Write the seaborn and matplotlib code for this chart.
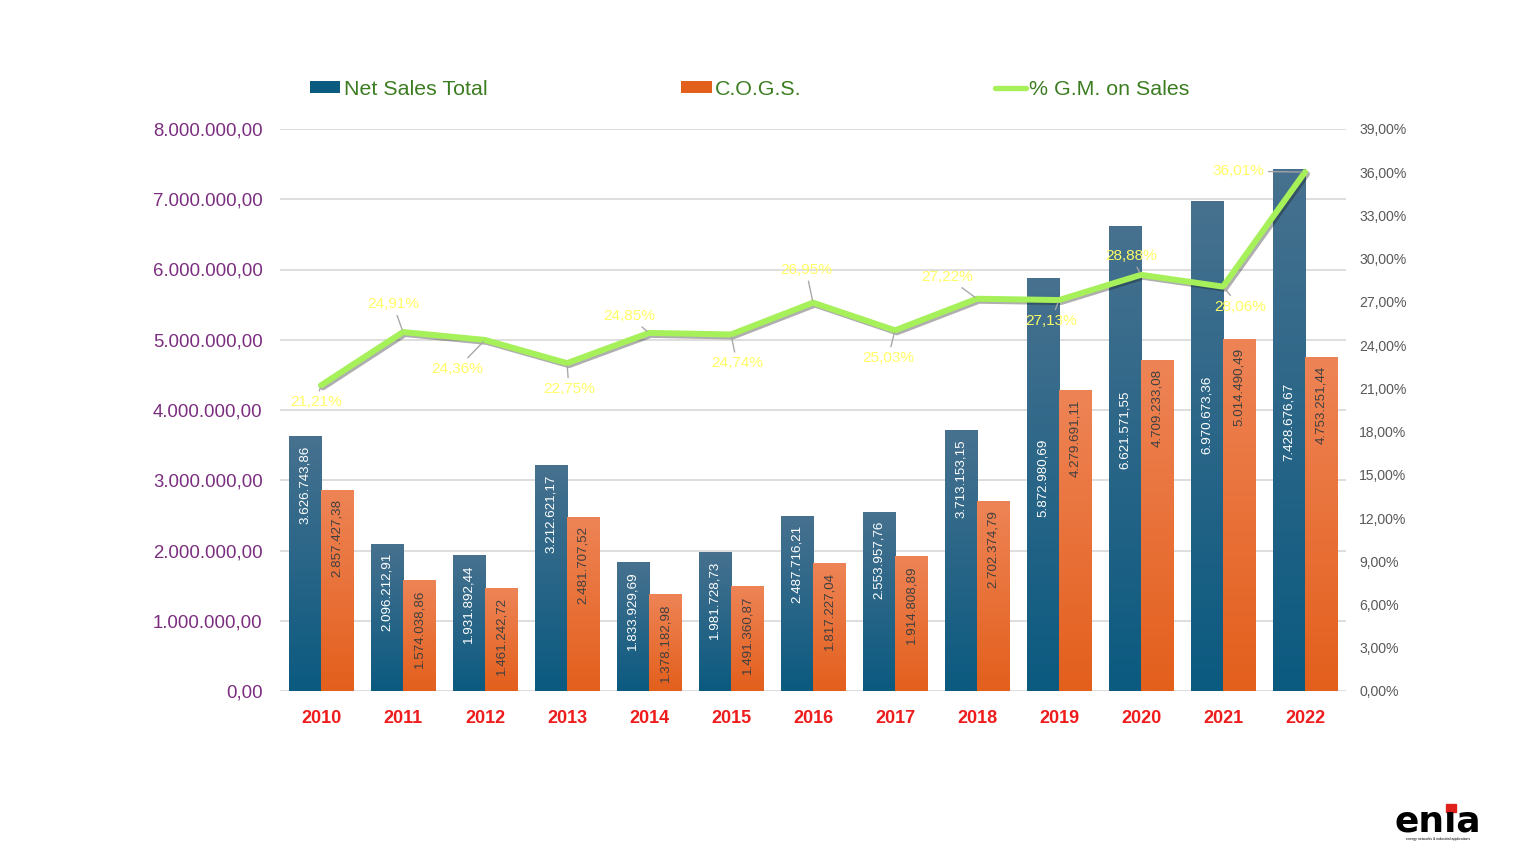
import numpy as np
import pandas as pd
import matplotlib
matplotlib.use("Agg")
import matplotlib.pyplot as plt
import matplotlib.patheffects as pe
from matplotlib.colors import LinearSegmentedColormap
from matplotlib.lines import Line2D
from matplotlib.patches import Patch, Rectangle
from matplotlib.ticker import FuncFormatter, MultipleLocator
import seaborn as sns

# data
years = ["2010", "2011", "2012", "2013", "2014", "2015", "2016",
         "2017", "2018", "2019", "2020", "2021", "2022"]
net_sales = [3626743.86, 2096212.91, 1931892.44, 3212621.17, 1833929.69,
             1981728.73, 2487716.21, 2553957.76, 3713153.15, 5872980.69,
             6621571.55, 6970673.36, 7428676.67]
cogs = [2857427.38, 1574038.86, 1461242.72, 2481707.52, 1378182.98,
        1491360.87, 1817227.04, 1914808.89, 2702374.79, 4279691.11,
        4709233.08, 5014490.49, 4753251.44]
gm_pct = [21.21, 24.91, 24.36, 22.75, 24.85, 24.74, 26.95,
          25.03, 27.22, 27.13, 28.88, 28.06, 36.01]
series_names = ["Net Sales Total", "C.O.G.S.", "% G.M. on Sales"]

# layout of the labels (not data): % label offsets from their points in
# pixels, and where the tall blue bars' labels were dragged down to
gm_label_offsets = [(-5, -17), (-10, 28), (-28, -29), (2, -26), (-20, 17),
                    (6, -29), (-7, 33), (-7, -28), (-30, 22), (-8, -21),
                    (-10, 19), (17, -20), (-67, 1)]
blue_label_anchor = {"2019": 3.72e6, "2020": 4.40e6, "2021": 4.62e6, "2022": 4.51e6}

BLUE_TOP, BLUE_BOT = "#47718f", "#0b5a80"
ORANGE_TOP, ORANGE_BOT = "#ee8456", "#e35f1c"
GREEN = "#a6f05a"
YELLOW = "#ffff66"


def eu(v, dec=2):
    s = f"{v:,.{dec}f}"
    return s.replace(",", "X").replace(".", ",").replace("X", ".")


sns.set_theme(style="white")
plt.rcParams["font.family"] = ["Liberation Sans", "DejaVu Sans"]

W, H = 1536, 864
fig = plt.figure(figsize=(16, 9), dpi=96)
ax = fig.add_axes([280 / W, 1 - 691 / H, 1066 / W, 562 / H])

df = pd.DataFrame({
    "year": years * 2,
    "value": net_sales + cogs,
    "series": [series_names[0]] * len(years) + [series_names[1]] * len(years),
})
sns.barplot(data=df, x="year", y="value", hue="series",
            palette=[BLUE_BOT, ORANGE_BOT], saturation=1, width=0.79,
            legend=False, ax=ax, zorder=2)

ax.set_ylim(0, 8_000_000)
ax.yaxis.set_major_locator(MultipleLocator(1_000_000))
ax.yaxis.set_major_formatter(FuncFormatter(lambda v, _: eu(v)))
ax.grid(axis="y", color="#d9d9d9", linewidth=1.3, zorder=0)
ax.grid(axis="x", visible=False)
ax.set_axisbelow(True)
for s in ax.spines.values():
    s.set_visible(False)
ax.tick_params(axis="y", length=0, pad=13, labelsize=14, labelcolor="#7b2d7f")
ax.tick_params(axis="x", length=0, pad=14, labelsize=13.5, labelcolor="#ee1c1c")
for t in ax.get_xticklabels():
    t.set_fontweight("bold")
ax.set_xlabel("")
ax.set_ylabel("")

# gradient fill for the bars
xlim, ylim = ax.get_xlim(), ax.get_ylim()
grad = np.linspace(0, 1, 256).reshape(-1, 1)
cmaps = [LinearSegmentedColormap.from_list("b", [BLUE_BOT, BLUE_TOP]),
         LinearSegmentedColormap.from_list("o", [ORANGE_BOT, ORANGE_TOP])]
bars = list(ax.patches)
n = len(years)
for i, bar in enumerate(bars):
    x0, w, h = bar.get_x(), bar.get_width(), bar.get_height()
    im = ax.imshow(grad, extent=[x0, x0 + w, 0, h], origin="lower",
                   aspect="auto", cmap=cmaps[i // n], zorder=2.1)
    im.set_clip_path(bar)
    bar.set_edgecolor("none")
ax.set_xlim(xlim)
ax.set_ylim(ylim)

# value labels inside the bars
values = net_sales + cogs
for i, bar in enumerate(bars):
    colour = "white" if i < n else "#404040"
    top = bar.get_height()
    if i < n:
        top = blue_label_anchor.get(years[i], top)
    ax.annotate(eu(values[i]), (bar.get_x() + bar.get_width() / 2, top),
                xytext=(0, -9), textcoords="offset pixels", rotation=90,
                ha="center", va="top", fontsize=10, color=colour, zorder=3)

# margin line on the right axis
ax2 = ax.twinx()
pos = np.arange(len(years))
sns.lineplot(x=pos, y=gm_pct, ax=ax2, color=GREEN, linewidth=4.5, zorder=4,
             path_effects=[pe.SimpleLineShadow(offset=(1.5, -1.5), alpha=0.35),
                           pe.Normal()])
ax2.set_ylim(0, 39)
ax2.yaxis.set_major_locator(MultipleLocator(3))
ax2.yaxis.set_major_formatter(FuncFormatter(lambda v, _: eu(v) + "%"))
ax2.tick_params(axis="y", length=0, pad=10, labelsize=10.5, labelcolor="#595959")
ax2.grid(False)
for s in ax2.spines.values():
    s.set_visible(False)
ax2.set_xlim(xlim)

for x, v, off in zip(pos, gm_pct, gm_label_offsets):
    ax2.annotate(eu(v) + "%", (x, v), xytext=off, textcoords="offset pixels",
                 ha="center", va="center", fontsize=11.5, color=YELLOW, zorder=5,
                 arrowprops=dict(arrowstyle="-", color="#a6a6a6", lw=1,
                                 shrinkA=1, shrinkB=2))

# legend across the top
handles = [Patch(facecolor=BLUE_BOT, edgecolor="none"),
           Patch(facecolor=ORANGE_BOT, edgecolor="none"),
           Line2D([], [], color=GREEN, linewidth=4)]
fig.legend(handles, series_names, loc="center",
           bbox_to_anchor=(301 / W, 1 - 89 / H - 0.02, 897 / W, 0.04),
           mode="expand", ncol=3, frameon=False, fontsize=16,
           labelcolor="#3c7d22", handlelength=1.45, handleheight=0.55,
           handletextpad=0.15, borderaxespad=0)

# logo: dotless i with a red square as its dot
renderer = fig.canvas.get_renderer()
logo_kw = dict(fontsize=27, fontweight="bold", family="DejaVu Sans",
               color="black", ha="left", va="baseline")
logo = fig.text(1395 / W, 1 - 831 / H, "en\u0131a", **logo_kw)
probe = fig.text(1395 / W, 1 - 831 / H, "en", alpha=0, **logo_kw)
probe_i = fig.text(1395 / W, 1 - 831 / H, "en\u0131", alpha=0, **logo_kw)
x_en = probe.get_window_extent(renderer).x1
x_eni = probe_i.get_window_extent(renderer).x1
xc = (x_en + x_eni) / 2
fig.patches.append(Rectangle(((xc - 5) / W, 1 - 812 / H), 10 / W, 8 / H,
                             transform=fig.transFigure, color="#e0201b"))
fig.text(1438 / W, 1 - 837 / H, "energy networks & industrial applications",
         fontsize=2.6, color="black", ha="center", va="top")

fig.savefig("out.png", dpi=96)
